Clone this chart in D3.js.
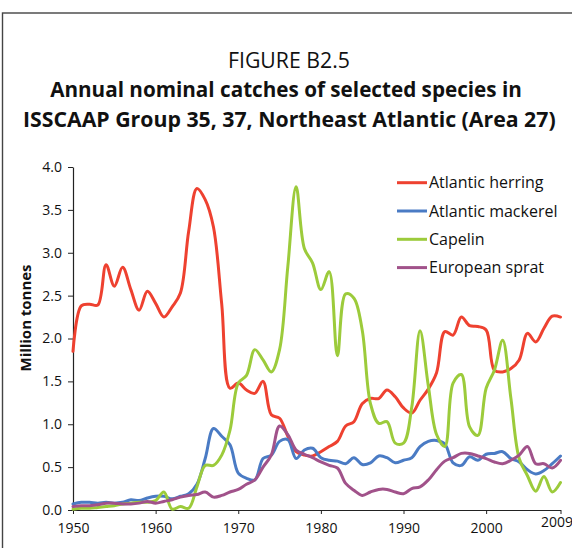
<!DOCTYPE html>
<html>
<head>
<meta charset="utf-8">
<script src="https://cdn.jsdelivr.net/npm/d3@7"></script>
<style>
  html, body { margin: 0; padding: 0; background: #fff; }
  svg { display: block; }
  text { font-family: "Open Sans", "Noto Sans", sans-serif; fill: #111; }
</style>
</head>
<body>
<svg id="chart" width="572" height="548"></svg>
<script>
const years = [1950,1951,1952,1953,1954,1955,1956,1957,1958,1959,
  1960,1961,1962,1963,1964,1965,1966,1967,1968,1969,
  1970,1971,1972,1973,1974,1975,1976,1977,1978,1979,
  1980,1981,1982,1983,1984,1985,1986,1987,1988,1989,
  1990,1991,1992,1993,1994,1995,1996,1997,1998,1999,
  2000,2001,2002,2003,2004,2005,2006,2007,2008,2009];

const atlanticHerring = [1.85,2.38,2.40,2.39,2.86,2.61,2.83,2.57,2.33,2.55,
  2.41,2.25,2.37,2.53,3.25,3.75,3.62,3.30,2.40,1.42,
  1.48,1.40,1.36,1.50,1.11,1.07,0.86,0.68,0.64,0.63,
  0.68,0.74,0.80,0.98,1.03,1.24,1.30,1.30,1.40,1.32,
  1.19,1.13,1.28,1.41,1.60,2.08,2.04,2.25,2.15,2.14,
  2.10,1.63,1.61,1.65,1.75,2.06,1.96,2.12,2.26,2.25];

const atlanticMackerel = [0.07,0.09,0.09,0.08,0.09,0.08,0.09,0.12,0.11,0.14,
  0.16,0.16,0.13,0.16,0.19,0.30,0.60,0.95,0.86,0.76,
  0.43,0.37,0.35,0.60,0.64,0.80,0.82,0.60,0.70,0.72,
  0.61,0.58,0.57,0.54,0.61,0.53,0.55,0.63,0.61,0.55,
  0.58,0.61,0.74,0.80,0.81,0.77,0.55,0.52,0.62,0.58,
  0.65,0.66,0.68,0.60,0.56,0.47,0.42,0.46,0.54,0.63];

const capelin = [0.01,0.02,0.02,0.03,0.04,0.05,0.07,0.08,0.09,0.09,
  0.11,0.21,0.01,0.04,0.02,0.27,0.52,0.52,0.64,0.93,
  1.48,1.57,1.87,1.75,1.61,1.87,2.84,3.77,3.05,2.88,
  2.57,2.78,1.80,2.52,2.47,2.10,1.24,1.01,1.03,0.78,
  0.78,1.20,2.09,1.45,0.88,0.74,1.48,1.58,0.97,0.87,
  1.42,1.63,1.98,1.30,0.60,0.40,0.22,0.39,0.21,0.32];

const europeanSprat = [0.04,0.05,0.05,0.06,0.08,0.08,0.07,0.07,0.08,0.10,
  0.08,0.10,0.12,0.15,0.17,0.18,0.21,0.15,0.17,0.21,
  0.24,0.30,0.35,0.50,0.64,0.98,0.88,0.70,0.65,0.61,
  0.56,0.52,0.49,0.31,0.23,0.17,0.21,0.24,0.24,0.21,
  0.19,0.25,0.27,0.35,0.47,0.57,0.61,0.66,0.66,0.63,
  0.60,0.56,0.54,0.58,0.64,0.74,0.54,0.54,0.49,0.58];

const seriesNames = ["Atlantic herring","Atlantic mackerel","Capelin","European sprat"];
const seriesColors = ["#ee4130","#4a7bc4","#9ccb3b","#a1528a"];
const yTicks = [0,0.5,1,1.5,2,2.5,3,3.5,4];
const xTicks = [1950,1960,1970,1980,1990,2000,2009];
const titleLines = ["FIGURE B2.5",
  "Annual nominal catches of selected species in",
  "ISSCAAP Group 35, 37, Northeast Atlantic (Area 27)"];
const yAxisTitle = "Million tonnes";

const seriesValues = [atlanticHerring, atlanticMackerel, capelin, europeanSprat];

const svg = d3.select("#chart");

// squeeze/stretch a text horizontally around its anchor x so it spans targetWidth
function fitWidth(sel, ax, targetWidth) {
  const w = sel.node().getComputedTextLength();
  const s = targetWidth / w;
  sel.attr("transform", `translate(${ax},0) scale(${s},1) translate(${-ax},0)`);
}

// outer frame
svg.append("rect")
  .attr("x", 2.5).attr("y", 13)
  .attr("width", 620).attr("height", 600)
  .attr("fill", "none").attr("stroke", "#444").attr("stroke-width", 1.4);

// titles
const titleSpec = [
  {cx: 289, y: 68.5, size: 21, weight: 400, width: 122},
  {cx: 286, y: 96.7, size: 21, weight: 700, width: 472},
  {cx: 289.3, y: 127.3, size: 21, weight: 700, width: 533}
];
titleLines.forEach((t, i) => {
  const s = titleSpec[i];
  const el = svg.append("text")
    .attr("x", s.cx).attr("y", s.y)
    .attr("text-anchor", "middle")
    .style("font-size", s.size + "px")
    .style("font-weight", s.weight)
    .text(t);
  fitWidth(el, s.cx, s.width);
});

const x = d3.scaleLinear().domain([1950, 2009]).range([73, 560.5]);
const y = d3.scaleLinear().domain([0, 4]).range([510, 167]);

// y axis
const gy = svg.append("g").attr("transform", "translate(73,0)")
  .call(d3.axisLeft(y).tickValues(yTicks).tickFormat(d3.format(".1f"))
    .tickSize(5).tickSizeOuter(0).tickPadding(6));
gy.selectAll("text").style("font-size", "14px").style("font-family", "'Open Sans', sans-serif").attr("fill", "#111");
gy.select(".domain").attr("stroke", "#222").attr("stroke-width", 1.2);
gy.selectAll(".tick line").attr("stroke", "#222");

// x axis
const gx = svg.append("g").attr("transform", "translate(0,510)")
  .call(d3.axisBottom(x).tickValues(xTicks).tickFormat(d3.format("d"))
    .tickSize(4).tickSizeOuter(0).tickPadding(9));
gx.selectAll("text").style("font-size", "14px").style("font-family", "'Open Sans', sans-serif").attr("fill", "#111");
gx.selectAll(".tick").filter(d => d === 2009).select("text").attr("dx", "-4").attr("y", 7);
gx.select(".domain").attr("stroke", "#222").attr("stroke-width", 1.2);
gx.selectAll(".tick line").attr("stroke", "#222");

// y axis title
const yt = svg.append("text")
  .attr("x", 0).attr("y", 0)
  .attr("text-anchor", "middle")
  .style("font-size", "15px").style("font-weight", 700)
  .text(yAxisTitle);
{
  const w = yt.node().getComputedTextLength();
  yt.attr("transform", `translate(31,318) rotate(-90) scale(${107 / w},1)`);
}

// lines
const line = d3.line()
  .x((d, i) => x(years[i]))
  .y(d => y(d))
  .curve(d3.curveCatmullRom.alpha(0.5));

seriesValues.forEach((vals, k) => {
  svg.append("path")
    .datum(vals)
    .attr("d", line)
    .attr("fill", "none")
    .attr("stroke", seriesColors[k])
    .attr("stroke-width", 3)
    .attr("stroke-linejoin", "round")
    .attr("stroke-linecap", "round");
});

// legend
const legend = svg.append("g");
seriesNames.forEach((name, k) => {
  const ly = 182.7 + k * 28.3;
  legend.append("line")
    .attr("x1", 397).attr("x2", 427).attr("y1", ly).attr("y2", ly)
    .attr("stroke", seriesColors[k]).attr("stroke-width", 3);
  legend.append("text")
    .attr("x", 429).attr("y", ly).attr("dy", "0.36em")
    .style("font-size", "16px")
    .text(name);
});
</script>
</body>
</html>
